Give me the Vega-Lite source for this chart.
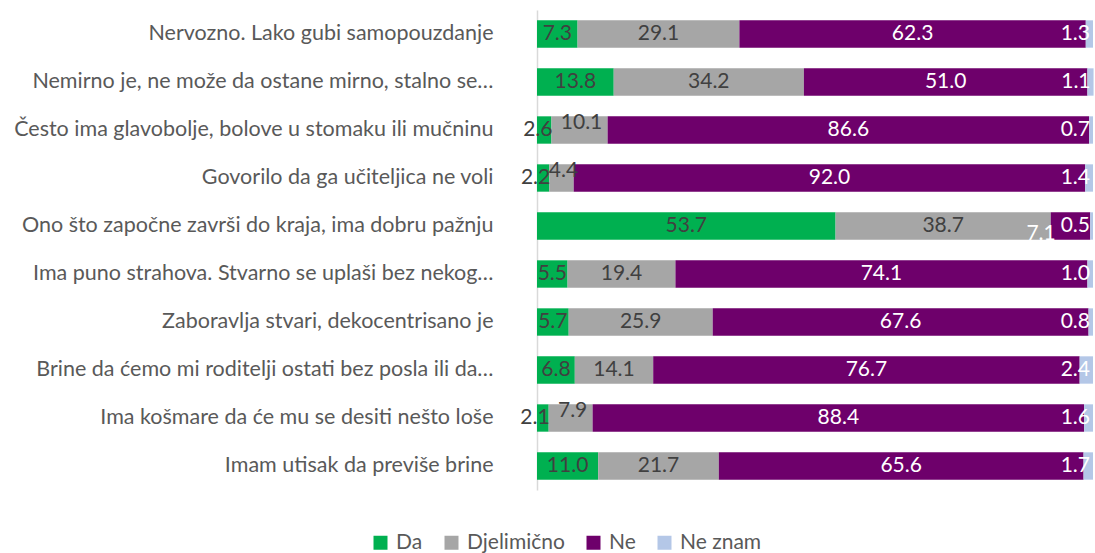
{
  "$schema": "https://vega.github.io/schema/vega-lite/v6.json",
  "width": 556,
  "height": 480,
  "autosize": {"type": "none"},
  "padding": {"left": 537, "top": 10, "right": 2, "bottom": 63},
  "background": "white",
  "config": {"view": {"stroke": null}, "font": "Lato"},
  "data": {"values": [
    {"q": "Nervozno. Lako gubi samopouzdanje", "series": "Da", "v": 7.3},
    {"q": "Nervozno. Lako gubi samopouzdanje", "series": "Djelimično", "v": 29.1},
    {"q": "Nervozno. Lako gubi samopouzdanje", "series": "Ne", "v": 62.3},
    {"q": "Nervozno. Lako gubi samopouzdanje", "series": "Ne znam", "v": 1.3},
    {"q": "Nemirno je, ne može da ostane mirno, stalno se…", "series": "Da", "v": 13.8},
    {"q": "Nemirno je, ne može da ostane mirno, stalno se…", "series": "Djelimično", "v": 34.2},
    {"q": "Nemirno je, ne može da ostane mirno, stalno se…", "series": "Ne", "v": 51.0},
    {"q": "Nemirno je, ne može da ostane mirno, stalno se…", "series": "Ne znam", "v": 1.1},
    {"q": "Često ima glavobolje, bolove u stomaku ili mučninu", "series": "Da", "v": 2.6},
    {"q": "Često ima glavobolje, bolove u stomaku ili mučninu", "series": "Djelimično", "v": 10.1},
    {"q": "Često ima glavobolje, bolove u stomaku ili mučninu", "series": "Ne", "v": 86.6},
    {"q": "Često ima glavobolje, bolove u stomaku ili mučninu", "series": "Ne znam", "v": 0.7},
    {"q": "Govorilo da ga učiteljica ne voli", "series": "Da", "v": 2.2},
    {"q": "Govorilo da ga učiteljica ne voli", "series": "Djelimično", "v": 4.4},
    {"q": "Govorilo da ga učiteljica ne voli", "series": "Ne", "v": 92.0},
    {"q": "Govorilo da ga učiteljica ne voli", "series": "Ne znam", "v": 1.4},
    {"q": "Ono što započne završi do kraja, ima dobru pažnju", "series": "Da", "v": 53.7},
    {"q": "Ono što započne završi do kraja, ima dobru pažnju", "series": "Djelimično", "v": 38.7},
    {"q": "Ono što započne završi do kraja, ima dobru pažnju", "series": "Ne", "v": 7.1},
    {"q": "Ono što započne završi do kraja, ima dobru pažnju", "series": "Ne znam", "v": 0.5},
    {"q": "Ima puno strahova. Stvarno se uplaši bez nekog…", "series": "Da", "v": 5.5},
    {"q": "Ima puno strahova. Stvarno se uplaši bez nekog…", "series": "Djelimično", "v": 19.4},
    {"q": "Ima puno strahova. Stvarno se uplaši bez nekog…", "series": "Ne", "v": 74.1},
    {"q": "Ima puno strahova. Stvarno se uplaši bez nekog…", "series": "Ne znam", "v": 1.0},
    {"q": "Zaboravlja stvari, dekocentrisano je", "series": "Da", "v": 5.7},
    {"q": "Zaboravlja stvari, dekocentrisano je", "series": "Djelimično", "v": 25.9},
    {"q": "Zaboravlja stvari, dekocentrisano je", "series": "Ne", "v": 67.6},
    {"q": "Zaboravlja stvari, dekocentrisano je", "series": "Ne znam", "v": 0.8},
    {"q": "Brine da ćemo mi roditelji ostati bez posla ili da…", "series": "Da", "v": 6.8},
    {"q": "Brine da ćemo mi roditelji ostati bez posla ili da…", "series": "Djelimično", "v": 14.1},
    {"q": "Brine da ćemo mi roditelji ostati bez posla ili da…", "series": "Ne", "v": 76.7},
    {"q": "Brine da ćemo mi roditelji ostati bez posla ili da…", "series": "Ne znam", "v": 2.4},
    {"q": "Ima košmare da će mu se desiti nešto loše", "series": "Da", "v": 2.1},
    {"q": "Ima košmare da će mu se desiti nešto loše", "series": "Djelimično", "v": 7.9},
    {"q": "Ima košmare da će mu se desiti nešto loše", "series": "Ne", "v": 88.4},
    {"q": "Ima košmare da će mu se desiti nešto loše", "series": "Ne znam", "v": 1.6},
    {"q": "Imam utisak  da previše brine", "series": "Da", "v": 11.0},
    {"q": "Imam utisak  da previše brine", "series": "Djelimično", "v": 21.7},
    {"q": "Imam utisak  da previše brine", "series": "Ne", "v": 65.6},
    {"q": "Imam utisak  da previše brine", "series": "Ne znam", "v": 1.7}
  ]},
  "transform": [
    {"stack": "v", "groupby": ["q"], "sort": [{"field": "series", "order": "ascending"}], "as": ["x0", "x1"]},
    {"calculate": "(datum.x0 + datum.x1) / 2", "as": "mid"}
  ],
  "encoding": {
    "y": {
      "field": "q", "type": "nominal", "sort": null,
      "scale": {"paddingInner": 0.43, "paddingOuter": 0.215},
      "axis": {
        "title": null, "ticks": false, "domain": true, "domainColor": "#D9D9D9", "domainWidth": 1.5,
        "labelFontSize": 21.5, "labelColor": "#595959", "labelPadding": 44, "labelLimit": 700, "labelFont": "Lato"
      }
    }
  },
  "layer": [
    {
      "mark": {"type": "bar"},
      "encoding": {
        "x": {"field": "x0", "type": "quantitative", "scale": {"domain": [0, 100]}, "axis": null},
        "x2": {"field": "x1"},
        "color": {
          "field": "series", "type": "nominal",
          "scale": {"domain": ["Da", "Djelimično", "Ne", "Ne znam"], "range": ["#00B050", "#A6A6A6", "#6E006B", "#B4C7E7"]},
          "legend": {
            "title": null, "orient": "none", "direction": "horizontal", "legendX": -167, "legendY": 522,
            "symbolType": "square", "symbolSize": 196, "symbolStrokeWidth": 0, "symbolOpacity": 1,
            "labelFontSize": 21, "labelColor": "#595959", "labelFont": "Lato", "columnPadding": 18, "labelOffset": 5
          }
        }
      }
    },
    {
      "transform": [{"filter": "datum.series !== 'Ne znam' && !(datum.series === 'Da' && datum.v < 3) && !(datum.series === 'Djelimično' && datum.v < 11) && !(datum.series === 'Ne' && datum.v < 10)"}],
      "mark": {"type": "text", "fontSize": 21, "baseline": "middle", "align": "center"},
      "encoding": {
        "x": {"field": "mid", "type": "quantitative"},
        "text": {"field": "v", "type": "quantitative", "format": ".1f"},
        "color": {"condition": {"test": "datum.series === 'Ne'", "value": "#FFFFFF"}, "value": "#404040"}
      }
    },
    {
      "transform": [{"filter": "datum.series === 'Da' && datum.v < 3"}],
      "mark": {"type": "text", "fontSize": 21, "baseline": "middle", "align": "right", "dx": 1, "color": "#404040"},
      "encoding": {
        "x": {"field": "x1", "type": "quantitative"},
        "text": {"field": "v", "type": "quantitative", "format": ".1f"}
      }
    },
    {
      "transform": [{"filter": "datum.series === 'Djelimično' && datum.v < 11"}],
      "mark": {"type": "text", "fontSize": 21, "baseline": "middle", "align": "center", "dy": -7, "dx": 2, "color": "#404040"},
      "encoding": {
        "x": {"field": "mid", "type": "quantitative"},
        "text": {"field": "v", "type": "quantitative", "format": ".1f"}
      }
    },
    {
      "transform": [{"filter": "datum.series === 'Ne' && datum.v < 10"}],
      "mark": {"type": "text", "fontSize": 21, "baseline": "middle", "align": "right", "dx": 5, "dy": 8, "color": "#FFFFFF"},
      "encoding": {
        "x": {"field": "x0", "type": "quantitative"},
        "text": {"field": "v", "type": "quantitative", "format": ".1f"}
      }
    },
    {
      "transform": [{"filter": "datum.series === 'Ne znam'"}],
      "mark": {"type": "text", "fontSize": 21, "baseline": "middle", "align": "right", "dx": -3, "color": "#FFFFFF"},
      "encoding": {
        "x": {"field": "x1", "type": "quantitative"},
        "text": {"field": "v", "type": "quantitative", "format": ".1f"}
      }
    }
  ]
}
